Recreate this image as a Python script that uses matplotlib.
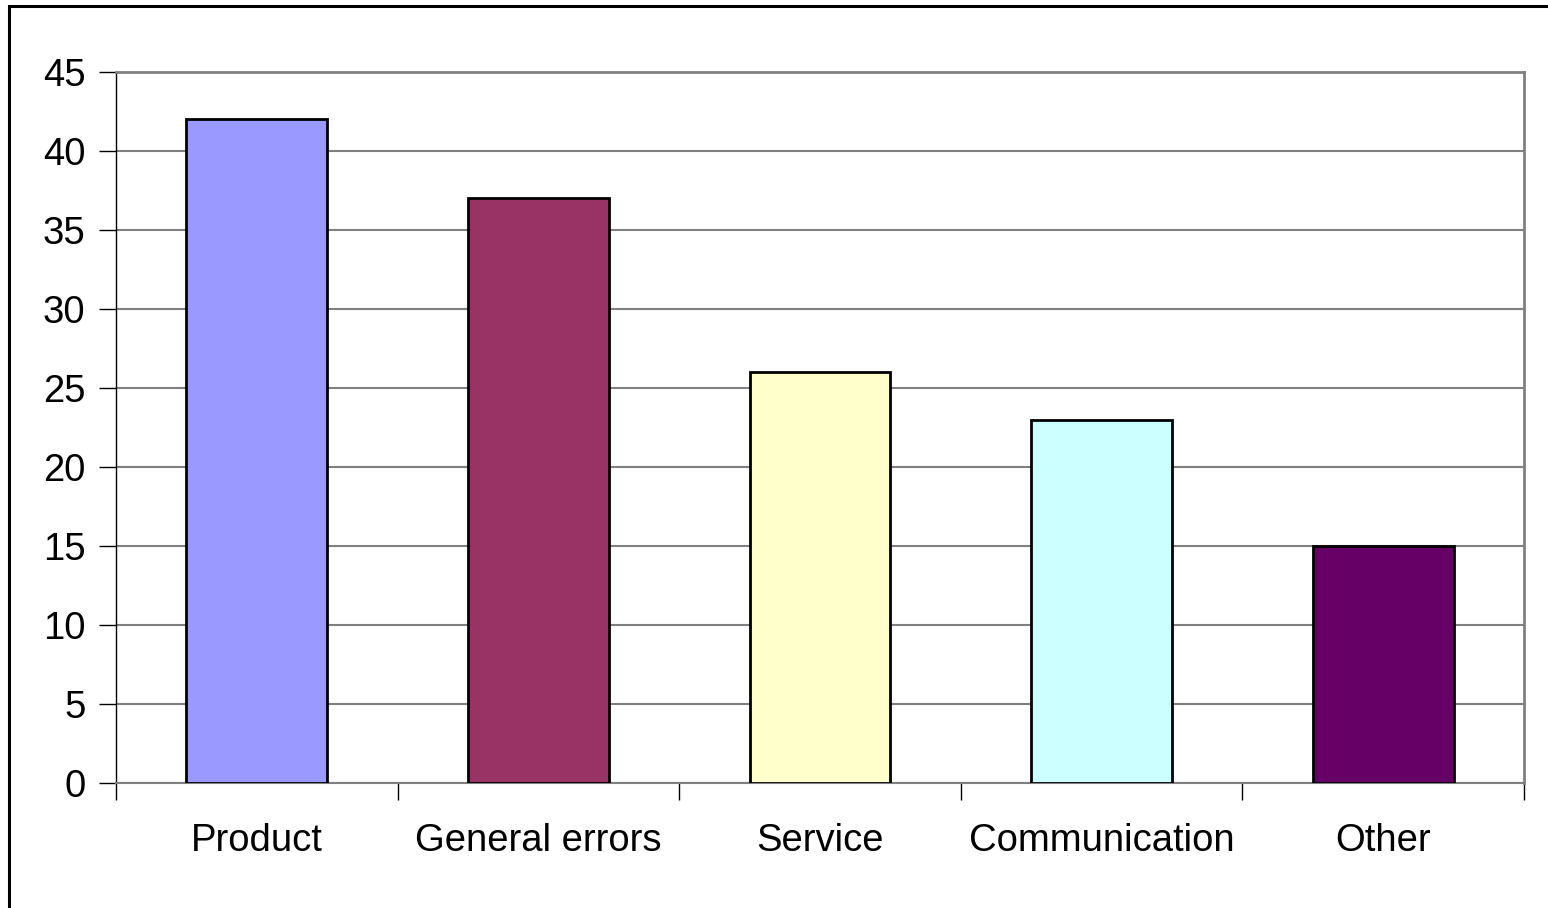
import matplotlib
matplotlib.use("Agg")
import matplotlib.pyplot as plt
import matplotlib.patches as mpatches
import numpy as np

plt.rcParams["font.family"] = ["Liberation Sans", "DejaVu Sans"]

categories = ["Product", "General errors", "Service", "Communication", "Other"]
counts = [42, 37, 26, 23, 15]
bar_colors = ["#9999FF", "#993366", "#FFFFCC", "#CCFFFF", "#660066"]
y_ticks = [0, 5, 10, 15, 20, 25, 30, 35, 40, 45]

W, H = 1548, 908
fig = plt.figure(figsize=(W / 100, H / 100), dpi=100)
ax = fig.add_axes([116 / W, 1 - 783 / H, (1524 - 116) / W, (783 - 72) / H])

x = np.arange(len(categories))
ax.bar(x, counts, width=0.5, color=bar_colors, edgecolor="black", linewidth=2, zorder=3)

ax.set_xlim(-0.5, len(categories) - 0.5)
ax.set_ylim(0, 45)
ax.set_yticks(y_ticks)
ax.yaxis.grid(True, color="#808080", linewidth=1.5, zorder=0)

# category labels at centres, tick marks at category boundaries
ax.set_xticks(x)
ax.set_xticklabels(categories, fontsize=27.5)
ax.tick_params(axis="x", length=0, pad=29)
ax.set_xticks(np.arange(len(categories) + 1) - 0.5, minor=True)
ax.tick_params(axis="x", which="minor", length=12, width=1, color="black", direction="out")
ax.tick_params(axis="y", labelsize=27.5, length=12, width=1, color="black", pad=10)

for side in ("top", "right"):
    ax.spines[side].set_color("#808080")
    ax.spines[side].set_linewidth(2)
ax.spines["left"].set_color("black")
ax.spines["left"].set_linewidth(1)
ax.spines["bottom"].set_color("#808080")
ax.spines["bottom"].set_linewidth(1.5)

# outer chart border
fig.patches.append(mpatches.Rectangle((8.5 / W, -0.1), 1.2, 1.1 - 6.5 / H,
                                      transform=fig.transFigure, fill=False,
                                      edgecolor="black", linewidth=2.2))

fig.savefig("out.png", dpi=100, facecolor="white")
